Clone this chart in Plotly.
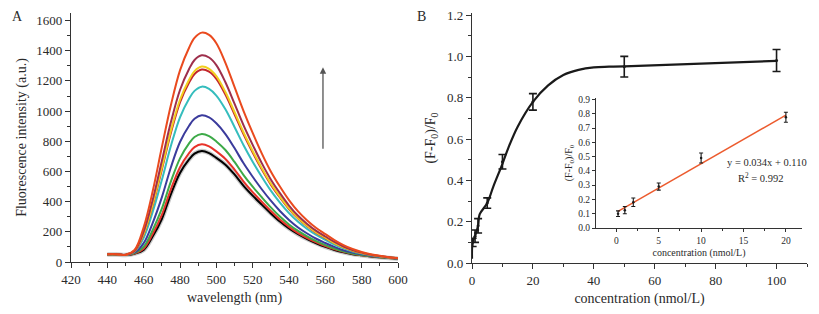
import plotly.graph_objects as go

# ---------------- Panel A data ----------------
wavelength = [440, 445, 450, 455, 460, 465, 470, 475, 480, 485, 488, 492, 496, 500, 505, 510,
              515, 520, 525, 530, 535, 540, 545, 550, 555, 560, 565, 570, 575, 580, 585, 590, 595, 600]

spec_black = [50, 50, 46, 55, 80, 170, 285, 450, 590, 680, 718, 736, 722, 690, 645, 580,
              505, 440, 380, 322, 268, 222, 184, 152, 124, 100, 80, 64, 52, 44, 37, 31, 26, 22]
spec_red = [50, 50, 46, 56, 88, 187, 312, 483, 628, 721, 761, 780, 766, 733, 683, 612,
            533, 463, 399, 338, 281, 233, 192, 159, 130, 105, 84, 67, 54, 45, 38, 32, 26, 22]
spec_green = [50, 50, 46, 59, 101, 213, 353, 534, 687, 786, 828, 848, 834, 799, 742, 663,
              576, 499, 429, 362, 301, 249, 206, 170, 138, 112, 89, 71, 57, 47, 39, 32, 27, 23]
spec_blue = [51, 51, 47, 63, 125, 260, 428, 628, 795, 903, 949, 972, 958, 919, 848, 755,
             654, 565, 482, 406, 338, 279, 229, 189, 154, 126, 100, 78, 62, 51, 42, 34, 28, 23]
spec_cyan = [51, 51, 47, 69, 161, 333, 543, 770, 959, 1082, 1134, 1162, 1147, 1103, 1012, 895,
             774, 665, 565, 473, 394, 324, 266, 219, 179, 146, 115, 90, 70, 56, 45, 36, 29, 24]
spec_darkred = [51, 51, 47, 72, 183, 376, 612, 856, 1058, 1189, 1246, 1275, 1261, 1213, 1109, 979,
                846, 726, 614, 513, 428, 351, 288, 237, 193, 158, 125, 97, 75, 59, 47, 38, 30, 25]
spec_yellow = [51, 51, 47, 73, 187, 384, 624, 871, 1075, 1208, 1265, 1295, 1280, 1232, 1126, 994,
               858, 736, 622, 520, 433, 356, 292, 240, 196, 161, 126, 98, 76, 60, 48, 38, 30, 25]
spec_maroon = [52, 52, 48, 75, 201, 413, 669, 927, 1140, 1279, 1339, 1370, 1355, 1305, 1191, 1049,
               905, 776, 655, 547, 456, 374, 306, 252, 206, 169, 133, 103, 80, 62, 49, 39, 31, 25]
spec_orange = [52, 52, 48, 80, 230, 470, 760, 1040, 1270, 1420, 1485, 1520, 1505, 1450, 1320, 1160,
               1000, 855, 720, 600, 500, 410, 335, 275, 225, 185, 145, 112, 86, 66, 52, 41, 32, 26]

spectra = [
    (spec_black, "#000000"),
    (spec_red, "#E8332A"),
    (spec_green, "#3DAA48"),
    (spec_blue, "#3B3B9C"),
    (spec_cyan, "#35BDBD"),
    (spec_darkred, "#C3262C"),
    (spec_yellow, "#F2CF1F"),
    (spec_maroon, "#9E2F4C"),
    (spec_orange, "#EA4A1E"),
]

# ---------------- Panel B data ----------------
conc = [0.2, 1, 2, 5, 10, 20, 50, 100]
ratio = [0.10, 0.13, 0.18, 0.29, 0.49, 0.78, 0.95, 0.98]
ratio_err = [0.02, 0.03, 0.035, 0.025, 0.035, 0.04, 0.05, 0.053]

fit_conc = [0, 0.2, 1, 2, 2.5, 5, 7, 10, 12, 15, 20, 25, 30, 35, 40, 45, 50, 100]
fit_ratio = [0.02, 0.10, 0.13, 0.18, 0.235, 0.29, 0.37, 0.48, 0.56, 0.66, 0.78, 0.86, 0.91, 0.935, 0.947, 0.95, 0.952, 0.978]

inset_conc = [0.2, 1, 2, 5, 10, 20]
inset_ratio = [0.10, 0.125, 0.18, 0.29, 0.49, 0.775]
inset_err = [0.02, 0.025, 0.03, 0.025, 0.035, 0.035]
lin_conc = [0.2, 20]
lin_ratio = [0.117, 0.79]

FONT = "Liberation Serif"
TXT = "#2a2a2a"

fig = go.Figure()

for vals, col in spectra:
    if col == "#000000":
        fig.add_trace(go.Scatter(x=wavelength, y=vals, mode="lines", xaxis="x", yaxis="y",
                                 line=dict(color="rgba(120,120,120,0.4)", width=4.5, shape="spline"),
                                 hoverinfo="skip", showlegend=False))
    fig.add_trace(go.Scatter(x=wavelength, y=vals, mode="lines", xaxis="x", yaxis="y",
                             line=dict(color=col, width=2, shape="spline"), showlegend=False))

# Panel B main
fig.add_trace(go.Scatter(x=fit_conc, y=fit_ratio, mode="lines", xaxis="x2", yaxis="y2",
                         line=dict(color="#1a1a1a", width=2.2, shape="spline"), showlegend=False))
fig.add_trace(go.Scatter(x=conc, y=ratio, mode="markers", xaxis="x2", yaxis="y2",
                         marker=dict(color="#1a1a1a", size=3),
                         error_y=dict(type="data", array=ratio_err, color="#1a1a1a", thickness=1.6, width=4),
                         showlegend=False))

# Inset
fig.add_trace(go.Scatter(x=lin_conc, y=lin_ratio, mode="lines", xaxis="x3", yaxis="y3",
                         line=dict(color="#EC5B2E", width=1.5), showlegend=False))
fig.add_trace(go.Scatter(x=inset_conc, y=inset_ratio, mode="markers", xaxis="x3", yaxis="y3",
                         marker=dict(color="#1a1a1a", size=2.5),
                         error_y=dict(type="data", array=inset_err, color="#1a1a1a", thickness=1.1, width=2),
                         showlegend=False))

tickfont_main = dict(family=FONT, size=13, color=TXT)
tickfont_in = dict(family=FONT, size=9.5, color=TXT)
axis_common = dict(showline=True, linecolor="#333", linewidth=1.2, ticks="outside", tickcolor="#333",
                   showgrid=False, zeroline=False, mirror=False, automargin=False)

fig.update_layout(
    width=819, height=314,
    margin=dict(l=0, r=0, t=0, b=0, autoexpand=False),
    paper_bgcolor="white", plot_bgcolor="white",
    xaxis=dict(domain=[71/819, 398/819], anchor="y", range=[420, 600], tickvals=list(range(420, 601, 20)),
               ticklen=5, tickwidth=1.2, tickfont=tickfont_main,
               minor=dict(dtick=10, ticks="outside", ticklen=3, tickcolor="#333"),
               title=dict(text="wavelength (nm)", font=dict(family=FONT, size=14, color=TXT), standoff=6),
               **axis_common),
    yaxis=dict(domain=[1-262/314, 1-13/314], anchor="x", range=[0, 1650], tickvals=list(range(0, 1601, 200)),
               ticklen=5, tickwidth=1.2, tickfont=tickfont_main,
               minor=dict(dtick=100, ticks="outside", ticklen=3, tickcolor="#333"),
               title=dict(text="Fluorescence intensity (a.u.)", font=dict(family=FONT, size=14, color=TXT), standoff=6),
               **axis_common),
    xaxis2=dict(domain=[472/819, 807/819], anchor="y2", range=[0, 110], tickvals=list(range(0, 101, 20)),
                ticklen=5, tickwidth=1.2, tickfont=tickfont_main,
                minor=dict(dtick=10, ticks="outside", ticklen=3, tickcolor="#333"),
                title=dict(text="concentration (nmol/L)", font=dict(family=FONT, size=14, color=TXT), standoff=6),
                **axis_common),
    yaxis2=dict(domain=[1-263/314, 1-13/314], anchor="x2", range=[0, 1.21],
                tickvals=[0, 0.2, 0.4, 0.6, 0.8, 1.0, 1.2], ticktext=["0.0", "0.2", "0.4", "0.6", "0.8", "1.0", "1.2"],
                ticklen=5, tickwidth=1.2, tickfont=tickfont_main,
                minor=dict(dtick=0.1, ticks="outside", ticklen=3, tickcolor="#333"),
                title=dict(text="(F-F<sub>0</sub>)/F<sub>0</sub>", font=dict(family=FONT, size=14, color=TXT), standoff=8),
                **axis_common),
    xaxis3=dict(domain=[596/819, 802/819], anchor="y3", range=[-2.4, 21.9], tickvals=[0, 5, 10, 15, 20],
                ticklen=3, tickwidth=1, tickfont=tickfont_in,
                minor=dict(dtick=2.5, ticks="outside", ticklen=2, tickcolor="#333"),
                title=dict(text="concentration (nmol/L)", font=dict(family=FONT, size=10, color=TXT), standoff=4),
                **axis_common),
    yaxis3=dict(domain=[1-228/314, 1-98/314], anchor="x3", range=[0, 0.91],
                tickvals=[round(0.1*i, 1) for i in range(10)], tickformat=".1f",
                ticklen=3, tickwidth=1, tickfont=tickfont_in,
                title=dict(text="(F-F<sub>0</sub>)/F<sub>0</sub>", font=dict(family=FONT, size=10, color=TXT), standoff=3),
                **axis_common),
    annotations=[
        dict(text="A", x=17/819, y=1-17/314, xref="paper", yref="paper", showarrow=False,
             xanchor="center", yanchor="middle", font=dict(family=FONT, size=14, color=TXT)),
        dict(text="B", x=422/819, y=1-17/314, xref="paper", yref="paper", showarrow=False,
             xanchor="center", yanchor="middle", font=dict(family=FONT, size=14, color=TXT)),
        dict(x=558.7, y=1290, ax=558.7, ay=740, xref="x", yref="y", axref="x", ayref="y",
             showarrow=True, arrowhead=2, arrowsize=1, arrowwidth=1.3, arrowcolor="#555", text=""),
        dict(text="y = 0.034x + 0.110", x=767/819, y=1-162/314, xref="paper", yref="paper", showarrow=False,
             xanchor="center", yanchor="middle", font=dict(family=FONT, size=10.5, color=TXT)),
        dict(text="R<sup>2</sup> = 0.992", x=760/819, y=1-177/314, xref="paper", yref="paper", showarrow=False,
             xanchor="center", yanchor="middle", font=dict(family=FONT, size=10.5, color=TXT)),
    ],
)

fig.write_html("out.html", config={"displayModeBar": False},
               post_script="document.body.style.margin='0';document.body.style.padding='0';")
